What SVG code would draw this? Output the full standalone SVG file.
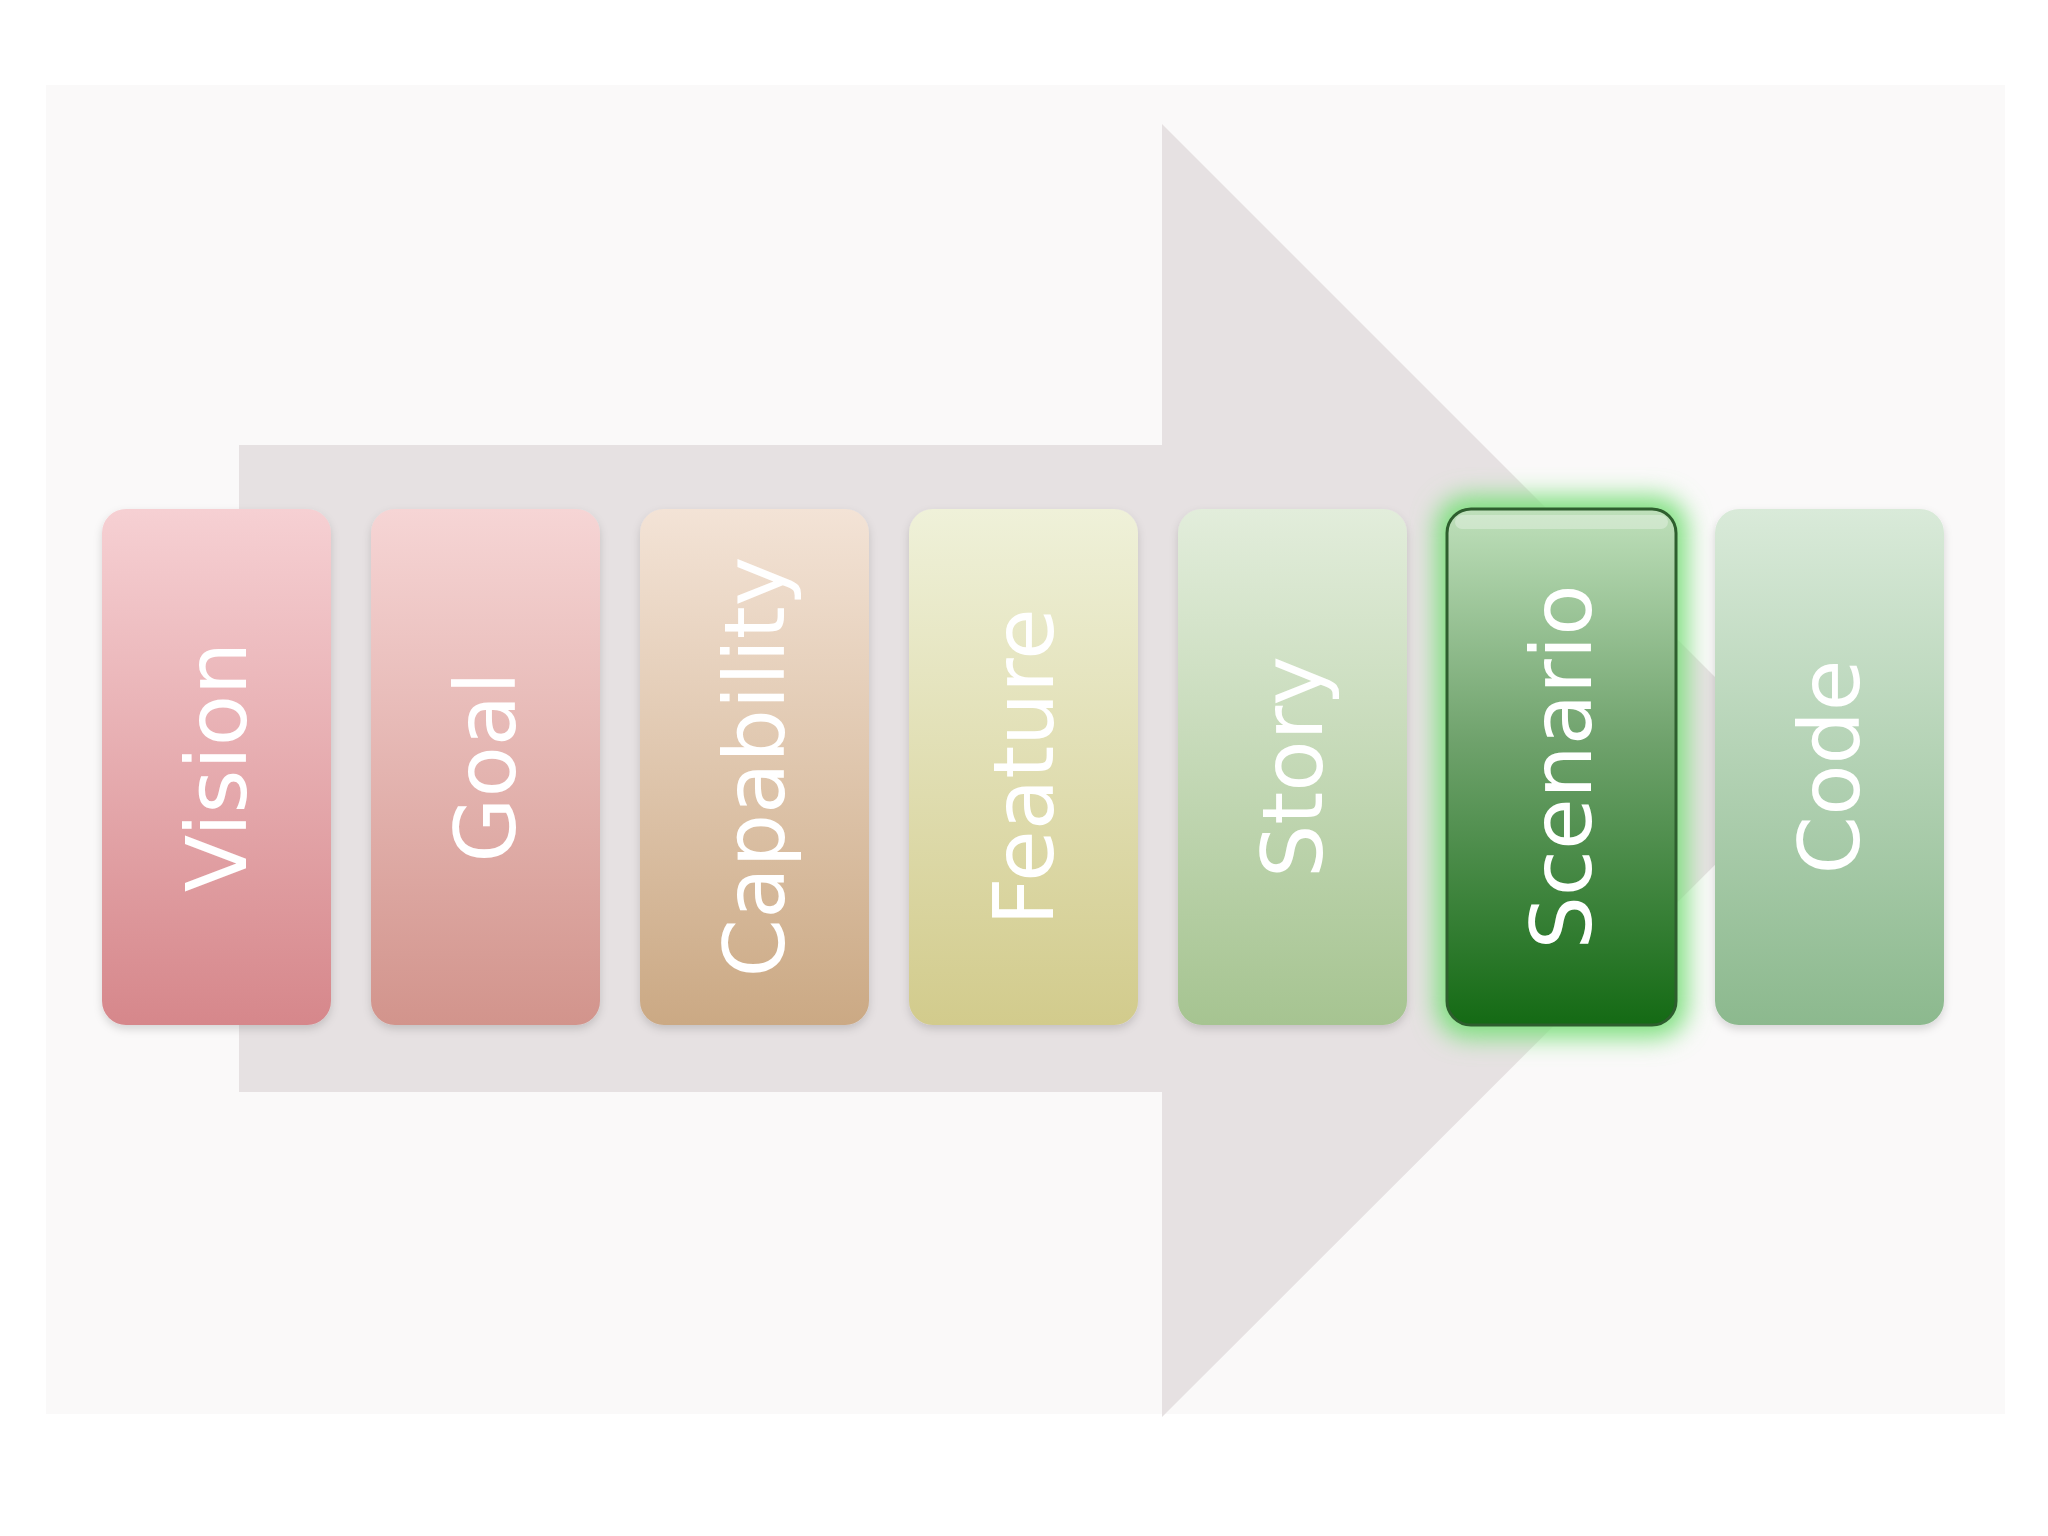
<svg xmlns="http://www.w3.org/2000/svg" width="2048" height="1536" viewBox="0 0 2048 1536">
<defs>
<linearGradient id="g1" x1="0" y1="0" x2="0" y2="1"><stop offset="0" stop-color="#f6d0d3"/><stop offset="1" stop-color="#d6878b"/></linearGradient>
<linearGradient id="g2" x1="0" y1="0" x2="0" y2="1"><stop offset="0" stop-color="#f6d5d5"/><stop offset="1" stop-color="#d2948c"/></linearGradient>
<linearGradient id="g3" x1="0" y1="0" x2="0" y2="1"><stop offset="0" stop-color="#f3e3d6"/><stop offset="1" stop-color="#cba984"/></linearGradient>
<linearGradient id="g4" x1="0" y1="0" x2="0" y2="1"><stop offset="0" stop-color="#eff1d9"/><stop offset="1" stop-color="#d2cb8c"/></linearGradient>
<linearGradient id="g5" x1="0" y1="0" x2="0" y2="1"><stop offset="0" stop-color="#e2eddb"/><stop offset="1" stop-color="#a6c491"/></linearGradient>
<linearGradient id="g6" x1="0" y1="0" x2="0" y2="1"><stop offset="0" stop-color="#bfe0bb"/><stop offset="0.45" stop-color="#6fa26c"/><stop offset="1" stop-color="#146a14"/></linearGradient>
<linearGradient id="g7" x1="0" y1="0" x2="0" y2="1"><stop offset="0" stop-color="#d9ead9"/><stop offset="1" stop-color="#8cb98e"/></linearGradient>
<filter id="glow" x="-30%" y="-20%" width="160%" height="140%"><feGaussianBlur stdDeviation="12"/></filter>
<filter id="sh" x="-10%" y="-10%" width="120%" height="120%"><feDropShadow dx="0" dy="4" stdDeviation="4" flood-color="#000" flood-opacity="0.15"/></filter>
</defs>
<style>
.box{filter:url(#sh)}
.lbl{font-family:"DejaVu Sans","Open Sans",sans-serif;font-size:84px;fill:#ffffff;text-anchor:middle;dominant-baseline:central}
</style>
<rect width="2048" height="1536" fill="#ffffff"/>
<rect x="46" y="85" width="1959" height="1329" fill="#faf9f9"/>
<g id="arrow"><polygon points="239,445 1162,445 1162,124 1809,771 1162,1417 1162,1092 239,1092" fill="#e6e1e2"/></g>
<g id="vision"><rect class="box" x="102" y="509" width="229" height="516" rx="24" fill="url(#g1)"/><text class="lbl" transform="translate(216.5,767) rotate(-90)">Vision</text></g>
<g id="goal"><rect class="box" x="371" y="509" width="229" height="516" rx="24" fill="url(#g2)"/><text class="lbl" transform="translate(485.5,767) rotate(-90)">Goal</text></g>
<g id="capability"><rect class="box" x="640" y="509" width="229" height="516" rx="24" fill="url(#g3)"/><text class="lbl" transform="translate(754.5,767) rotate(-90)">Capability</text></g>
<g id="feature"><rect class="box" x="909" y="509" width="229" height="516" rx="24" fill="url(#g4)"/><text class="lbl" transform="translate(1023.5,767) rotate(-90)">Feature</text></g>
<g id="story"><rect class="box" x="1178" y="509" width="229" height="516" rx="24" fill="url(#g5)"/><text class="lbl" transform="translate(1292.5,767) rotate(-90)">Story</text></g>
<g id="scenario"><rect x="1436" y="496" width="251" height="542" rx="32" fill="#7fe07f" filter="url(#glow)"/><rect x="1447" y="509" width="229" height="516" rx="24" fill="url(#g6)" stroke="#2e5e2e" stroke-width="3"/><rect x="1455" y="515" width="213" height="14" rx="7" fill="#ffffff" opacity="0.3"/><text class="lbl" transform="translate(1561.5,767) rotate(-90)">Scenario</text></g>
<g id="code"><rect class="box" x="1715" y="509" width="229" height="516" rx="24" fill="url(#g7)"/><text class="lbl" transform="translate(1829.5,767) rotate(-90)">Code</text></g>
<g id="connectors"/>
</svg>
